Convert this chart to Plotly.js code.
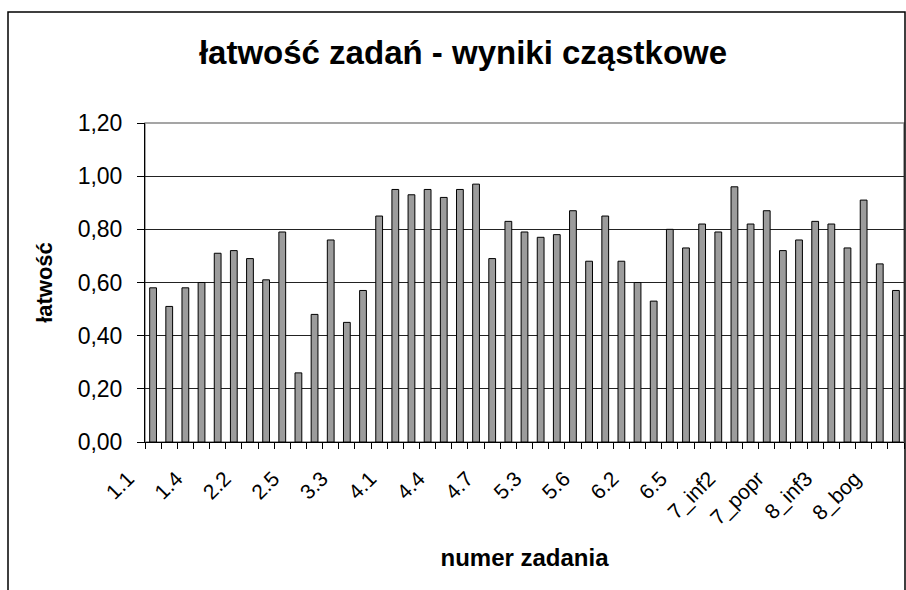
<!DOCTYPE html>
<html>
<head>
<meta charset="utf-8">
<script src="https://cdn.plot.ly/plotly-3.0.1.min.js"></script>
<style>html,body{margin:0;padding:0;background:#fff;}#chart{width:906px;height:590px;}</style>
</head>
<body>
<div id="chart"></div>
<script>
// Task identifiers (categories)
const categories = [
  "1.1","1.2","1.3","1.4","1.5","2.1","2.2","2.3","2.4","2.5",
  "3.1","3.2","3.3","3.4","3.5","4.1","4.2","4.3","4.4","4.5",
  "4.6","4.7","5.1","5.2","5.3","5.4","5.5","5.6","5.7","6.1",
  "6.2","6.3","6.4","6.5","6.6","7_inf1","7_inf2","7_inf3","7_wyr","7_popr",
  "8_inf1","8_inf2","8_inf3","8_wyr","8_pop","8_bog","8_zak"
];
// Easiness values
const easiness = [
  0.58,0.51,0.58,0.60,0.71,0.72,0.69,0.61,0.79,0.26,
  0.48,0.76,0.45,0.57,0.85,0.95,0.93,0.95,0.92,0.95,
  0.97,0.69,0.83,0.79,0.77,0.78,0.87,0.68,0.85,0.68,
  0.60,0.53,0.80,0.73,0.82,0.79,0.96,0.82,0.87,0.72,
  0.76,0.83,0.82,0.73,0.91,0.67,0.57
];
// Tick labels that are shown on the x axis
const shownLabels = ["1.1","1.4","2.2","2.5","3.3","4.1","4.4","4.7","5.3","5.6","6.2","6.5","7_inf2","7_popr","8_inf3","8_bog"];
const yTicks = [0,0.2,0.4,0.6,0.8,1.0,1.2];

const W = 906, H = 590;
const M = {l:145, r:2, t:123, b:148};
const pw = W - M.l - M.r, ph = H - M.t - M.b;
const px = v => (v - M.l) / pw;
const py = v => (H - M.b - v) / ph;

const font = "Liberation Sans, Arial, sans-serif";

const trace = {
  type: 'bar',
  x: categories,
  y: easiness,
  marker: {color: '#9c9c9c', line: {color: '#000', width: 1}},
  hoverinfo: 'x+y'
};

const layout = {
  width: W, height: H,
  margin: M,
  paper_bgcolor: '#fff', plot_bgcolor: '#fff',
  separators: ', ',
  showlegend: false,
  bargap: 0.58,
  font: {family: font, color: '#000'},
  title: {
    text: 'łatwość zadań - wyniki cząstkowe',
    font: {family: font, size: 33, weight: 'bold', color: '#000'},
    xref: 'container', x: 463 / W, xanchor: 'center',
    yref: 'container', y: 1 - 52 / H, yanchor: 'middle'
  },
  xaxis: {
    type: 'category',
    tickmode: 'array',
    tickvals: categories,
    ticktext: categories.map(c => shownLabels.includes(c) ? c : ''),
    tickson: 'boundaries',
    ticks: 'outside', ticklen: 6, tickcolor: '#000', tickwidth: 1,
    tickangle: -45,
    tickfont: {family: font, size: 21, color: '#000'},
    ticklabelstandoff: 15,
    ticklabelshift: -25,
    showgrid: false,
    showline: true, linecolor: '#000', linewidth: 1,
    range: [-0.5, categories.length - 0.5],
    title: {text: 'numer zadania', font: {family: font, size: 24, weight: 'bold', color: '#000'}, standoff: 20},
    automargin: false
  },
  yaxis: {
    range: [0, 1.2],
    tickmode: 'array', tickvals: yTicks,
    tickformat: '.2f',
    ticks: 'outside', ticklen: 7, tickcolor: '#000',
    tickfont: {family: font, size: 23, color: '#000'},
    ticklabelstandoff: 10,
    showgrid: true, gridcolor: '#222', gridwidth: 1,
    showline: true, linecolor: '#000', linewidth: 1,
    zeroline: false,
    title: {text: 'łatwość', font: {family: font, size: 22, weight: 'bold', color: '#000'}, standoff: 18},
    automargin: false
  },
  shapes: [
    {type: 'rect', xref: 'paper', yref: 'paper', x0: 0, x1: 1, y0: 0, y1: 1,
     line: {color: '#888', width: 1.5}, layer: 'below'},
    {type: 'rect', xref: 'paper', yref: 'paper', x0: px(8), x1: px(905), y0: py(620), y1: py(12),
     line: {color: '#000', width: 1.5}, fillcolor: 'rgba(0,0,0,0)'}
  ]
};

Plotly.newPlot('chart', [trace], layout, {displayModeBar: false, staticPlot: true});
</script>
</body>
</html>
